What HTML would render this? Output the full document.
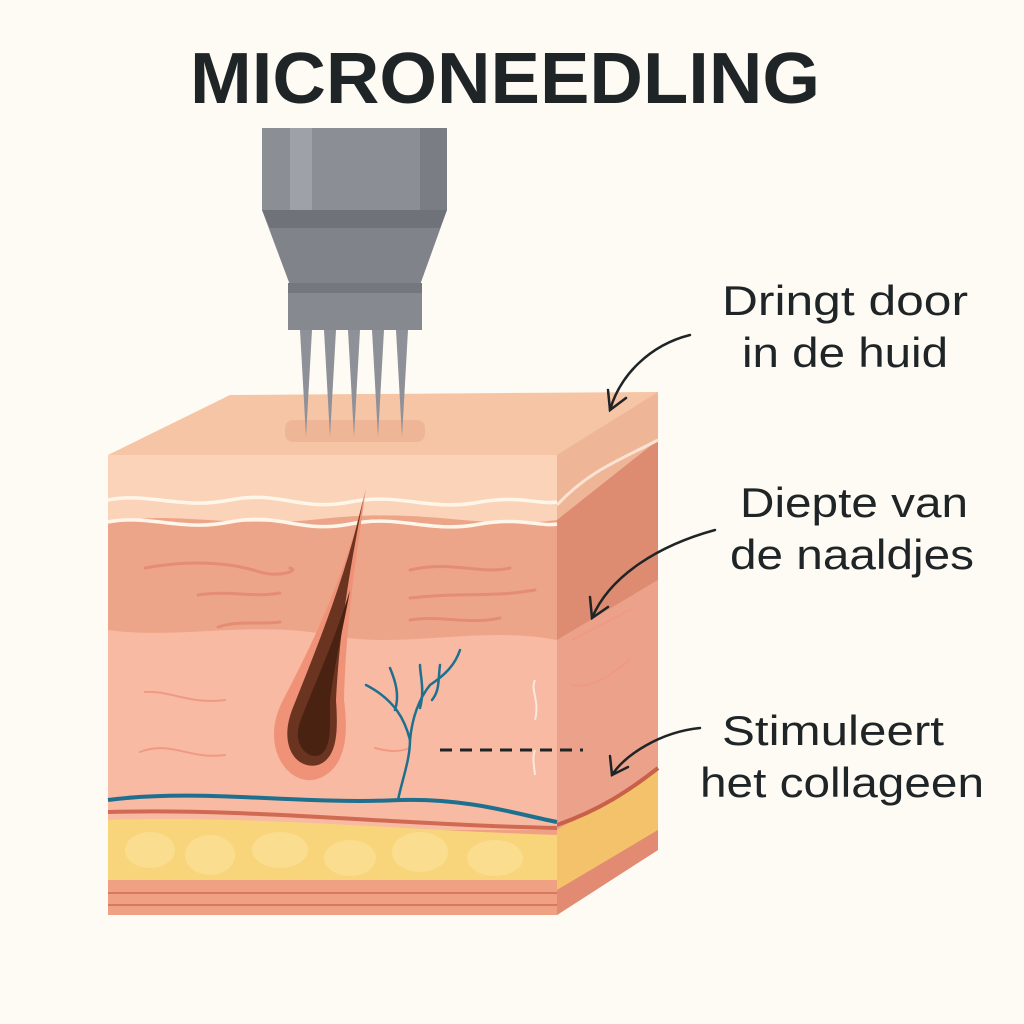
<!DOCTYPE html>
<html><head><meta charset="utf-8"><style>
html,body{margin:0;padding:0;background:#fdfbf3;}
svg{display:block}
text{font-family:"Liberation Sans",sans-serif;}
</style></head><body>
<svg width="1024" height="1024" viewBox="0 0 1024 1024" xmlns="http://www.w3.org/2000/svg">
<rect width="1024" height="1024" fill="#fdfbf3"/>
<text x="190" y="103" font-size="72" font-weight="bold" fill="#1f2427" textLength="630" lengthAdjust="spacingAndGlyphs">MICRONEEDLING</text>

<!-- skin top face -->
<path d="M108,455 L230,395 L658,392 L557,455 Z" fill="#f6c5a5"/>
<rect x="285" y="420" width="140" height="22" rx="8" fill="#efb597"/>
<!-- right face -->
<path d="M557,455 L658,392 L658,850 L557,915 Z" fill="#eaa085"/>
<path d="M557,455 L658,392 L658,440 L557,520 Z" fill="#efb597"/>
<path d="M557,520 L658,440 L658,580 L557,640 Z" fill="#dd8c72"/>
<path d="M557,640 L658,580 L658,770 L557,830 Z" fill="#eca28a"/>
<path d="M557,830 L658,770 L658,830 L557,890 Z" fill="#f3c26a"/>
<path d="M557,890 L658,830 L658,850 L557,915 Z" fill="#e28b72"/>
<path d="M557,505 C590,470 620,460 658,440" stroke="#fbe3d3" stroke-width="3" fill="none"/>
<path d="M557,825 C600,810 630,790 658,768" stroke="#c8604a" stroke-width="4" fill="none"/>

<!-- front face layers -->
<rect x="108" y="455" width="449" height="460" rx="6" fill="#f0a184"/>
<rect x="108" y="455" width="449" height="70" fill="#fbd3b8"/>
<path d="M108,522 C180,510 230,530 330,518 C430,508 480,530 557,520 L557,640 C480,625 400,650 330,635 C250,620 180,640 108,630 Z" fill="#eda58a"/>
<path d="M108,630 C180,640 250,620 330,635 C400,650 480,625 557,640 L557,830 L108,830 Z" fill="#f8baa2"/>
<path d="M108,500 C150,492 180,510 230,500 C280,490 300,512 350,502 C400,492 430,512 480,502 C520,495 540,505 557,502" stroke="#fff6ea" stroke-width="3.5" fill="none"/>
<path d="M108,522 C150,514 180,532 230,522 C280,512 300,534 350,524 C400,514 430,534 480,524 C520,517 540,527 557,524" stroke="#fff6ea" stroke-width="3.5" fill="none"/>
<g stroke="#e48c74" stroke-width="3" fill="none" stroke-linecap="round">
<path d="M145,568 C190,560 230,562 260,572 C280,578 300,570 290,568"/>
<path d="M198,595 C230,590 250,598 280,593"/>
<path d="M218,627 C240,620 260,625 280,622"/>
<path d="M410,570 C450,560 480,575 510,568"/>
<path d="M410,598 C460,592 490,598 535,590"/>
<path d="M410,620 C440,615 470,625 500,618"/>
</g>
<g stroke="#f09a84" stroke-width="2" fill="none" stroke-linecap="round">
<path d="M145,692 C170,690 190,705 225,700"/>
<path d="M140,752 C170,740 190,760 225,755"/>
<path d="M375,748 C390,752 400,752 410,748"/>
<path d="M572,640 C595,628 610,620 630,610"/>
<path d="M572,685 C595,690 615,670 630,660"/>
</g>
<path d="M535,680 C530,690 540,700 535,720" stroke="#fde8dc" stroke-width="2" fill="none"/>
<path d="M535,750 C532,758 534,765 535,775" stroke="#fde8dc" stroke-width="2" fill="none"/>

<!-- fat -->
<path d="M108,820 C250,815 400,830 557,835 L557,880 L108,880 Z" fill="#f8d57b"/>
<g fill="#fbdf93" opacity="0.8">
<ellipse cx="150" cy="850" rx="25" ry="18"/><ellipse cx="210" cy="855" rx="25" ry="20"/><ellipse cx="280" cy="850" rx="28" ry="18"/><ellipse cx="350" cy="858" rx="26" ry="18"/><ellipse cx="420" cy="852" rx="28" ry="20"/><ellipse cx="495" cy="858" rx="28" ry="18"/>
</g>
<path d="M108,812 C250,808 400,825 557,828" stroke="#d16a52" stroke-width="4" fill="none"/>
<rect x="108" y="880" width="449" height="35" fill="#f0a184"/>
<line x1="108" y1="893" x2="557" y2="893" stroke="#d97861" stroke-width="2"/>
<line x1="108" y1="905" x2="557" y2="905" stroke="#d97861" stroke-width="2"/>

<!-- blue vessel -->
<path d="M108,800 C200,788 300,805 400,800 C470,798 520,815 557,822" stroke="#1f6f8f" stroke-width="4" fill="none"/>
<g stroke="#1f6f8f" stroke-width="2.5" fill="none" stroke-linecap="round">
<path d="M398,800 C402,780 410,760 410,740 C412,720 418,700 430,685 C445,675 455,665 460,650"/>
<path d="M410,740 C405,720 395,700 366,685"/>
<path d="M395,710 C400,695 395,680 390,668"/>
<path d="M420,708 C425,690 420,675 420,665"/>
<path d="M432,700 C440,690 438,680 440,665"/>
</g>

<!-- hair follicle -->
<path d="M366,488 C350,560 320,630 283,700 C258,748 290,790 320,778 C348,766 348,730 344,700 C346,620 356,560 366,488 Z" fill="#f09278"/>
<path d="M364,495 C348,570 320,640 292,710 C278,748 298,770 318,765 C338,758 338,730 336,700 C340,620 352,560 364,495 Z" fill="#6b3420"/>
<path d="M350,590 C335,640 312,690 300,722 C292,745 308,760 320,755 C332,748 330,725 330,700 C335,660 345,620 350,590 Z" fill="#4a2212"/>

<!-- dashed -->
<line x1="440" y1="750" x2="583" y2="750" stroke="#1f2427" stroke-width="3" stroke-dasharray="12,8"/>

<!-- device -->
<rect x="262" y="128" width="185" height="82" fill="#8b8e95"/>
<rect x="290" y="128" width="22" height="82" fill="#9ea1a8"/>
<rect x="420" y="128" width="27" height="82" fill="#7a7d84"/>
<path d="M262,210 L447,210 L420,285 L290,285 Z" fill="#80838a"/>
<path d="M262,210 L447,210 L440,228 L270,228 Z" fill="#6f7279"/>
<rect x="288" y="283" width="134" height="47" fill="#868990"/>
<rect x="288" y="283" width="134" height="10" fill="#74777e"/>
<g fill="#8e9198">
<path d="M300,330 L312,330 L306,437 Z"/><path d="M324,330 L336,330 L330,437 Z"/><path d="M348,330 L360,330 L354,437 Z"/><path d="M372,330 L384,330 L378,437 Z"/><path d="M396,330 L408,330 L402,437 Z"/>
</g>

<!-- labels -->
<g font-size="42" fill="#1f2427">
<text x="722" y="315" textLength="246" lengthAdjust="spacingAndGlyphs">Dringt door</text>
<text x="742" y="367" textLength="206" lengthAdjust="spacingAndGlyphs">in de huid</text>
<text x="740" y="517" textLength="228" lengthAdjust="spacingAndGlyphs">Diepte van</text>
<text x="730" y="569" textLength="244" lengthAdjust="spacingAndGlyphs">de naaldjes</text>
<text x="722" y="745" textLength="222" lengthAdjust="spacingAndGlyphs">Stimuleert</text>
<text x="700" y="797" textLength="284" lengthAdjust="spacingAndGlyphs">het collageen</text>
</g>
<g stroke="#1f2427" stroke-width="2.5" fill="none" stroke-linecap="round">
<path d="M690,335 C650,345 620,375 610,410"/><path d="M608,390 L610,410 L626,398"/>
<path d="M715,530 C660,545 610,575 592,618"/><path d="M590,597 L592,618 L608,607"/>
<path d="M700,728 C660,732 625,755 612,775"/><path d="M610,756 L612,775 L628,767"/>
</g>
</svg>
</body></html>
